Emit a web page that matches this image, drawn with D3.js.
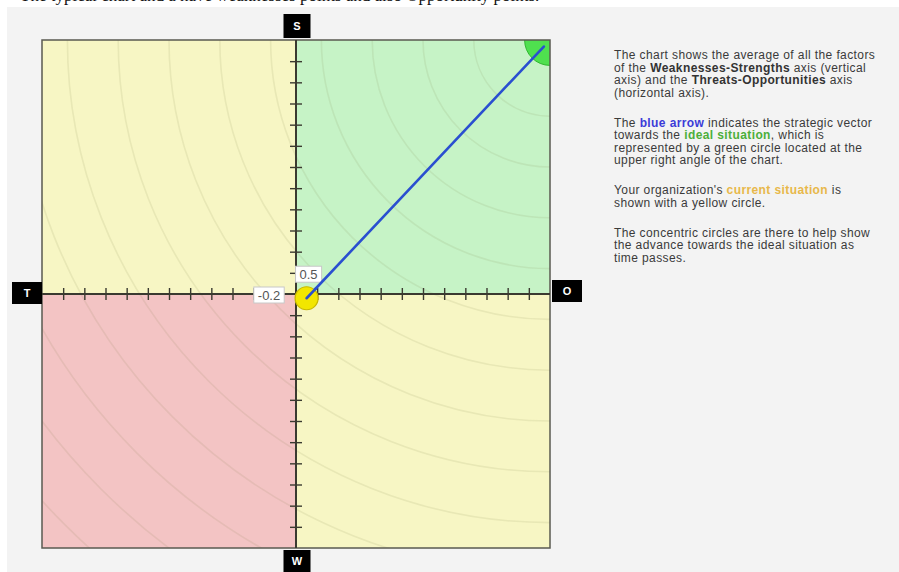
<!DOCTYPE html>
<html>
<head>
<meta charset="utf-8">
<script src="https://cdn.jsdelivr.net/npm/d3@7"></script>
<style>
  html, body { margin: 0; padding: 0; background: #fff; }
  svg { display: block; }
</style>
</head>
<body>
<svg id="chart"></svg>
<script>
// axis labels (S top, W bottom, T left, O right)
const axisLabels = ["S", "W", "T", "O"];
// tick positions, one per unit on each half of the axes
const tickValues = d3.range(-11, 12).filter(d => d !== 0);
// current situation: Threats-Opportunities (x) and Weaknesses-Strengths (y)
const currentX = [0.5];
const currentY = [-0.2];
// ideal situation: upper right corner
const idealX = [12];
const idealY = [12];
// concentric circle radii, in axis units, around the ideal point
const ringRadii = [1.2, 3.6, 6.0, 8.4, 10.8, 13.2, 15.6, 18.0, 20.4, 22.8, 25.2, 27.6, 30.0, 32.4, 34.8];

const descParas = [
  [["The chart shows the average of all the factors"],
   ["of the ", ["Weaknesses-Strengths", "b"], " axis (vertical"],
   ["axis) and the ", ["Threats-Opportunities", "b"], " axis"],
   ["(horizontal axis)."]],
  [["The ", ["blue arrow", "blue"], " indicates the strategic vector"],
   ["towards the ", ["ideal situation", "green"], ", which is"],
   ["represented by a green circle located at the"],
   ["upper right angle of the chart."]],
  [["Your organization's ", ["current situation", "orange"], " is"],
   ["shown with a yellow circle."]],
  [["The concentric circles are there to help show"],
   ["the advance towards the ideal situation as"],
   ["time passes."]]
];

const width = 899, height = 572;
const plot = { left: 42, right: 550, top: 40, bottom: 548 };

const svg = d3.select("#chart").attr("width", width).attr("height", height);

// page panel
svg.append("rect").attr("x", 7).attr("y", 7).attr("width", width - 7).attr("height", height - 7)
  .attr("fill", "#f3f3f3");

// caption line at top, cut by the screenshot edge as in the source
svg.append("text")
  .attr("x", 20).attr("y", 1)
  .attr("font-family", "Liberation Serif, Times New Roman, serif")
  .attr("font-size", 17)
  .attr("fill", "#111")
  .text("The typical chart and a have weaknesses points and also Opportunity points.");

const x = d3.scaleLinear().domain([-12, 12]).range([plot.left, plot.right]);
const y = d3.scaleLinear().domain([-12, 12]).range([plot.bottom, plot.top]);
const unit = x(1) - x(0);

svg.append("defs").append("clipPath").attr("id", "plot-clip")
  .append("rect")
  .attr("x", plot.left).attr("y", plot.top)
  .attr("width", plot.right - plot.left).attr("height", plot.bottom - plot.top);

// quadrants
const quads = [
  { x0: -12, x1: 0, y0: 0, y1: 12, fill: "#f7f6c4" },
  { x0: 0, x1: 12, y0: 0, y1: 12, fill: "#c6f3c6" },
  { x0: -12, x1: 0, y0: -12, y1: 0, fill: "#f3c4c4" },
  { x0: 0, x1: 12, y0: -12, y1: 0, fill: "#f7f6c4" }
];
svg.append("g").selectAll("rect").data(quads).join("rect")
  .attr("x", d => x(d.x0)).attr("y", d => y(d.y1))
  .attr("width", d => x(d.x1) - x(d.x0)).attr("height", d => y(d.y0) - y(d.y1))
  .attr("fill", d => d.fill);

const g = svg.append("g").attr("clip-path", "url(#plot-clip)");

// concentric rings
g.append("g").selectAll("circle").data(ringRadii.slice(1)).join("circle")
  .attr("cx", x(idealX[0])).attr("cy", y(idealY[0]))
  .attr("r", d => d * unit)
  .attr("fill", "none")
  .attr("stroke", "rgba(120,120,60,0.11)")
  .attr("stroke-width", 1.6);

// ideal circle
g.append("circle")
  .attr("cx", x(idealX[0])).attr("cy", y(idealY[0]))
  .attr("r", ringRadii[0] * unit)
  .attr("fill", "#4fe04f").attr("stroke", "#2fb82f").attr("stroke-width", 1);

// plot border
svg.append("rect")
  .attr("x", plot.left).attr("y", plot.top)
  .attr("width", plot.right - plot.left).attr("height", plot.bottom - plot.top)
  .attr("fill", "none").attr("stroke", "#5a5a50").attr("stroke-width", 1.5);

// axes
const axisColor = "#3a3a30";
const hAxisTop = svg.append("g").attr("transform", `translate(0,${y(0)})`)
  .call(d3.axisTop(x).tickValues(tickValues).tickSize(6).tickFormat(""));
const hAxisBot = svg.append("g").attr("transform", `translate(0,${y(0)})`)
  .call(d3.axisBottom(x).tickValues(tickValues).tickSize(6).tickFormat(""));
const vAxisL = svg.append("g").attr("transform", `translate(${x(0)},0)`)
  .call(d3.axisLeft(y).tickValues(tickValues).tickSize(6).tickFormat(""));
const vAxisR = svg.append("g").attr("transform", `translate(${x(0)},0)`)
  .call(d3.axisRight(y).tickValues(tickValues).tickSize(6).tickFormat(""));
[hAxisTop, hAxisBot, vAxisL, vAxisR].forEach(a => {
  a.select(".domain").remove();
  a.selectAll("line").attr("stroke", axisColor).attr("stroke-width", 1.4);
});
svg.append("line")
  .attr("x1", x(-12)).attr("x2", x(12)).attr("y1", y(0)).attr("y2", y(0))
  .attr("stroke", axisColor).attr("stroke-width", 2);
svg.append("line")
  .attr("x1", x(0)).attr("x2", x(0)).attr("y1", y(-12)).attr("y2", y(12))
  .attr("stroke", axisColor).attr("stroke-width", 2);

// value boxes
function valueBox(cx, cy, label) {
  const t = svg.append("text")
    .attr("x", cx).attr("y", cy + 4.5)
    .attr("text-anchor", "middle")
    .attr("font-family", "Liberation Sans, Arial, sans-serif")
    .attr("font-size", 13)
    .attr("fill", "#555")
    .text(label);
  const bb = t.node().getBBox();
  svg.insert("rect", () => t.node())
    .attr("x", bb.x - 4).attr("y", cy - 8)
    .attr("width", bb.width + 8).attr("height", 16)
    .attr("fill", "#fff").attr("stroke", "#c8c8c8").attr("stroke-width", 1);
}
valueBox(x(currentX[0]) + 2, y(currentY[0]) - 24, String(currentX[0]));
valueBox(x(0) - 27, y(0) + 1, String(currentY[0]));

// strategic vector
const sx = x(currentX[0]), sy = y(currentY[0]);
const ex = x(idealX[0]), ey = y(idealY[0]);
const len = Math.hypot(ex - sx, ey - sy);
const shorten = 9;
svg.append("line")
  .attr("x1", sx).attr("y1", sy)
  .attr("x2", ex - (ex - sx) * shorten / len).attr("y2", ey - (ey - sy) * shorten / len)
  .attr("stroke", "#2a4fd0").attr("stroke-width", 2.6).attr("stroke-linecap", "round");

// current situation circle
svg.append("circle")
  .attr("cx", sx).attr("cy", sy).attr("r", 11.5)
  .attr("fill", "#f2e600").attr("stroke", "#c8b800").attr("stroke-width", 1.2);
// redraw the vector start over the yellow circle
svg.append("line")
  .attr("x1", sx).attr("y1", sy)
  .attr("x2", sx + (ex - sx) * 14 / len).attr("y2", sy + (ey - sy) * 14 / len)
  .attr("stroke", "#2a4fd0").attr("stroke-width", 2.6).attr("stroke-linecap", "round");

// S / W / T / O badges
const badges = [
  { label: axisLabels[0], cx: x(0) + 1, cy: 26, w: 27, h: 24 },
  { label: axisLabels[1], cx: x(0) + 1, cy: 561, w: 27, h: 22 },
  { label: axisLabels[2], cx: 27, cy: 293, w: 30, h: 22 },
  { label: axisLabels[3], cx: 567, cy: 291, w: 30, h: 22 }
];
const bg = svg.append("g").selectAll("g").data(badges).join("g");
bg.append("rect")
  .attr("x", d => d.cx - d.w / 2).attr("y", d => d.cy - d.h / 2)
  .attr("width", d => d.w).attr("height", d => d.h).attr("fill", "#000");
bg.append("text")
  .attr("x", d => d.cx).attr("y", d => d.cy + 4)
  .attr("text-anchor", "middle")
  .attr("font-family", "Liberation Sans, Arial, sans-serif")
  .attr("font-weight", "bold").attr("font-size", 11)
  .attr("fill", "#fff")
  .text(d => d.label);

// description
const styles = {
  b: { weight: "bold", fill: "#333" },
  blue: { weight: "bold", fill: "#3b3bd8" },
  green: { weight: "bold", fill: "#4caf3a" },
  orange: { weight: "bold", fill: "#e8b84a" }
};
const desc = svg.append("g")
  .attr("font-family", "Liberation Sans, Arial, sans-serif")
  .attr("font-size", 12).attr("letter-spacing", 0.4).attr("fill", "#3a3a3a");
const paraTops = [59, 126.5, 194, 236.5];
descParas.forEach((para, pi) => {
  para.forEach((line, li) => {
    const t = desc.append("text").attr("x", 614).attr("y", paraTops[pi] + li * 12.5);
    line.forEach(part => {
      if (typeof part === "string") {
        t.append("tspan").text(part);
      } else {
        const s = styles[part[1]];
        t.append("tspan").attr("font-weight", s.weight).attr("fill", s.fill).text(part[0]);
      }
    });
  });
});
</script>
</body>
</html>
